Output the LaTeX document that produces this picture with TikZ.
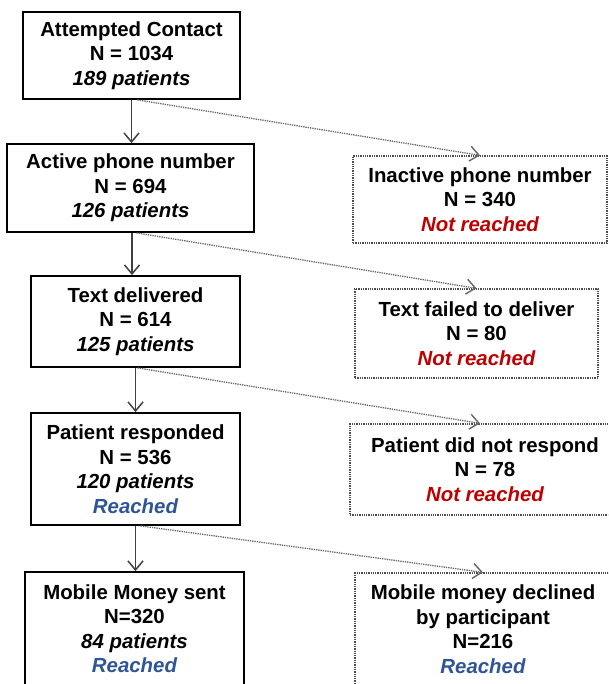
\documentclass[tikz,border=0pt]{standalone}
\usepackage{fontspec}
\setmainfont{Liberation Sans}
\usetikzlibrary{arrows.meta}
\definecolor{nrred}{HTML}{C00000}
\definecolor{rblue}{HTML}{2F5597}
\definecolor{arrowgray}{HTML}{404040}
\begin{document}
\begin{tikzpicture}[x=1pt,y=-1pt,
  txt/.style={align=center,inner sep=0pt,font=\bfseries\fontsize{20.4}{24.5}\selectfont},
  mainbox/.style={txt,draw=black,line width=1.8pt,rectangle},
  sidebox/.style={txt,draw=black!70,line width=1.3pt,densely dotted,rectangle},
  flow/.style={draw=arrowgray,line width=1.5pt,-{Straight Barb[length=9pt,width=15pt,line width=1.5pt]}},
  side/.style={draw=black!60,line width=1.3pt,densely dotted,-{Straight Barb[length=9pt,width=15pt,line width=1.4pt]}}]
\useasboundingbox (0,0) rectangle (608,684);
\clip (0,0) rectangle (608,684);
\fill[white] (0,0) rectangle (608,684);
% main column
\node[mainbox,minimum width=217pt,minimum height=87pt] (b1) at (131.5,55.5)
  {Attempted Contact\\N = 1034\\\itshape 189 patients};
\node[mainbox,minimum width=247pt,minimum height=88pt] (b2) at (130.5,188)
  {Active phone number\\N = 694\\\itshape 126 patients};
\node[mainbox,minimum width=209pt,minimum height=91pt] (b3) at (135.5,321.5)
  {Text delivered\\N = 614\\\itshape 125 patients};
\node[mainbox,minimum width=209pt,minimum height=112pt] (b4) at (135.5,469)
  {Patient responded\\N = 536\\\itshape 120 patients\\\itshape\color{rblue}Reached};
\node[mainbox,minimum width=219pt,minimum height=113pt] (b5) at (134.5,628.5)
  {Mobile Money sent\\N=320\\\itshape 84 patients\\\itshape\color{rblue}Reached};
% side column
\node[sidebox,minimum width=254pt,minimum height=87pt] (r1) at (480,199.5)
  {Inactive phone number\\N = 340\\\itshape\color{nrred}Not reached};
\node[sidebox,minimum width=243pt,minimum height=89pt] (r2) at (476.5,333.5)
  {Text failed to deliver\\N = 80\\\itshape\color{nrred}Not reached};
\node[sidebox,minimum width=270pt,minimum height=91pt] (r3) at (485,469.5)
  {Patient did not respond\\N = 78\\\itshape\color{nrred}Not reached};
\node[sidebox,minimum width=256pt,minimum height=112pt] (r4) at (483,629)
  {Mobile money declined\\by participant\\N=216\\\itshape\color{rblue}Reached};
% solid flow arrows
\draw[flow] (b1.south) -- (b1.south |- b2.north);
\draw[flow] ([xshift=1.5pt]b2.south) -- ([xshift=1.5pt]b2.south |- b3.north);
\draw[flow] (b3.south) -- (b3.south |- b4.north);
\draw[flow] (b4.south) -- (b4.south |- b5.north);
% dotted side arrows
\draw[side] ([xshift=6pt]b1.south) -- (r1.north);
\draw[side] ([xshift=6pt]b2.south) -- (r2.north);
\draw[side] ([xshift=2pt]b3.south) -- ([xshift=-5pt]r3.north);
\draw[side] ([xshift=5pt]b4.south) -- (r4.north);
\end{tikzpicture}
\end{document}
